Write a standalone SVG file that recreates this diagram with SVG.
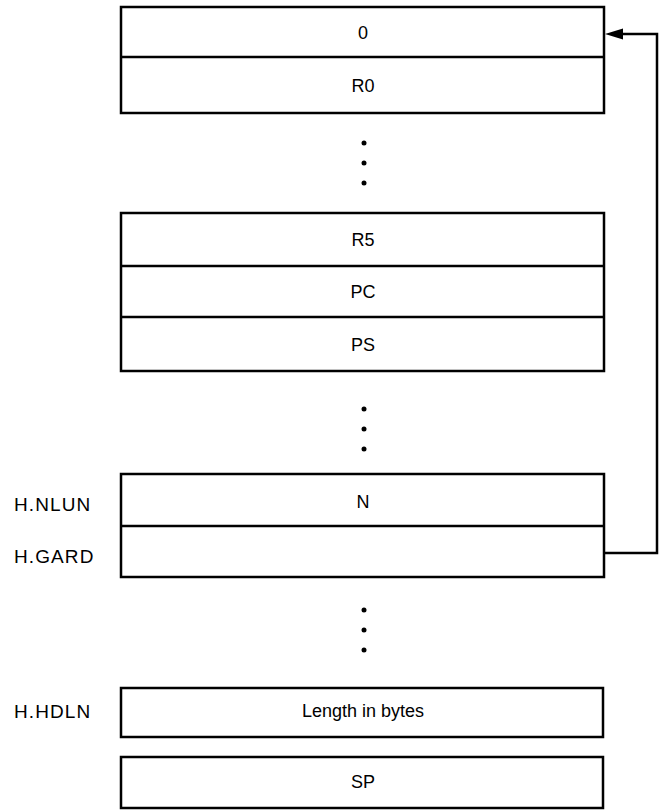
<svg xmlns="http://www.w3.org/2000/svg" width="659" height="811" viewBox="0 0 659 811">
<style>
.box{fill:#fff;stroke:#000;stroke-width:2.5}
.div{stroke:#000;stroke-width:2.5}
.t{font-family:"Liberation Sans",Arial,sans-serif;font-size:18px;fill:#000;text-anchor:middle}
.lbl{font-family:"Liberation Sans",Arial,sans-serif;font-size:19px;letter-spacing:1.1px;fill:#000}
.dot{fill:#000}
.conn{fill:none;stroke:#000;stroke-width:2.5}
</style>
<rect width="659" height="811" fill="#fff"/>
<g id="block-top">
<rect class="box" x="121" y="7" width="483" height="106"/>
<line class="div" x1="121" y1="57" x2="604" y2="57"/>
<text class="t" x="363" y="39">0</text>
<text class="t" x="363" y="91.5">R0</text>
</g>
<g id="dots-1">
<circle class="dot" cx="364" cy="143" r="2.5"/>
<circle class="dot" cx="364" cy="163" r="2.5"/>
<circle class="dot" cx="364" cy="183" r="2.5"/>
</g>
<g id="block-regs">
<rect class="box" x="121" y="213" width="483" height="158"/>
<line class="div" x1="121" y1="266" x2="604" y2="266"/>
<line class="div" x1="121" y1="317" x2="604" y2="317"/>
<text class="t" x="363" y="246">R5</text>
<text class="t" x="363" y="298">PC</text>
<text class="t" x="363" y="350.5">PS</text>
</g>
<g id="dots-2">
<circle class="dot" cx="364" cy="409" r="2.5"/>
<circle class="dot" cx="364" cy="429" r="2.5"/>
<circle class="dot" cx="364" cy="449" r="2.5"/>
</g>
<g id="block-nlun">
<rect class="box" x="121" y="474" width="483" height="103"/>
<line class="div" x1="121" y1="526" x2="604" y2="526"/>
<text class="t" x="363" y="508">N</text>
<text class="lbl" x="14" y="511">H.NLUN</text>
<text class="lbl" x="14" y="563">H.GARD</text>
</g>
<g id="dots-3">
<circle class="dot" cx="364" cy="610" r="2.5"/>
<circle class="dot" cx="364" cy="630" r="2.5"/>
<circle class="dot" cx="364" cy="650" r="2.5"/>
</g>
<g id="block-hdln">
<rect class="box" x="121" y="688" width="482" height="49"/>
<text class="t" x="363" y="717">Length in bytes</text>
<text class="lbl" x="14" y="718">H.HDLN</text>
</g>
<g id="block-sp">
<rect class="box" x="121" y="757" width="482" height="51"/>
<text class="t" x="363" y="788">SP</text>
</g>
<g id="connectors">
<polyline class="conn" points="604,553 657,553 657,34 622,34"/>
<path d="M605,34 L623,28.5 L623,39.5 z" fill="#000"/>
</g>
</svg>
